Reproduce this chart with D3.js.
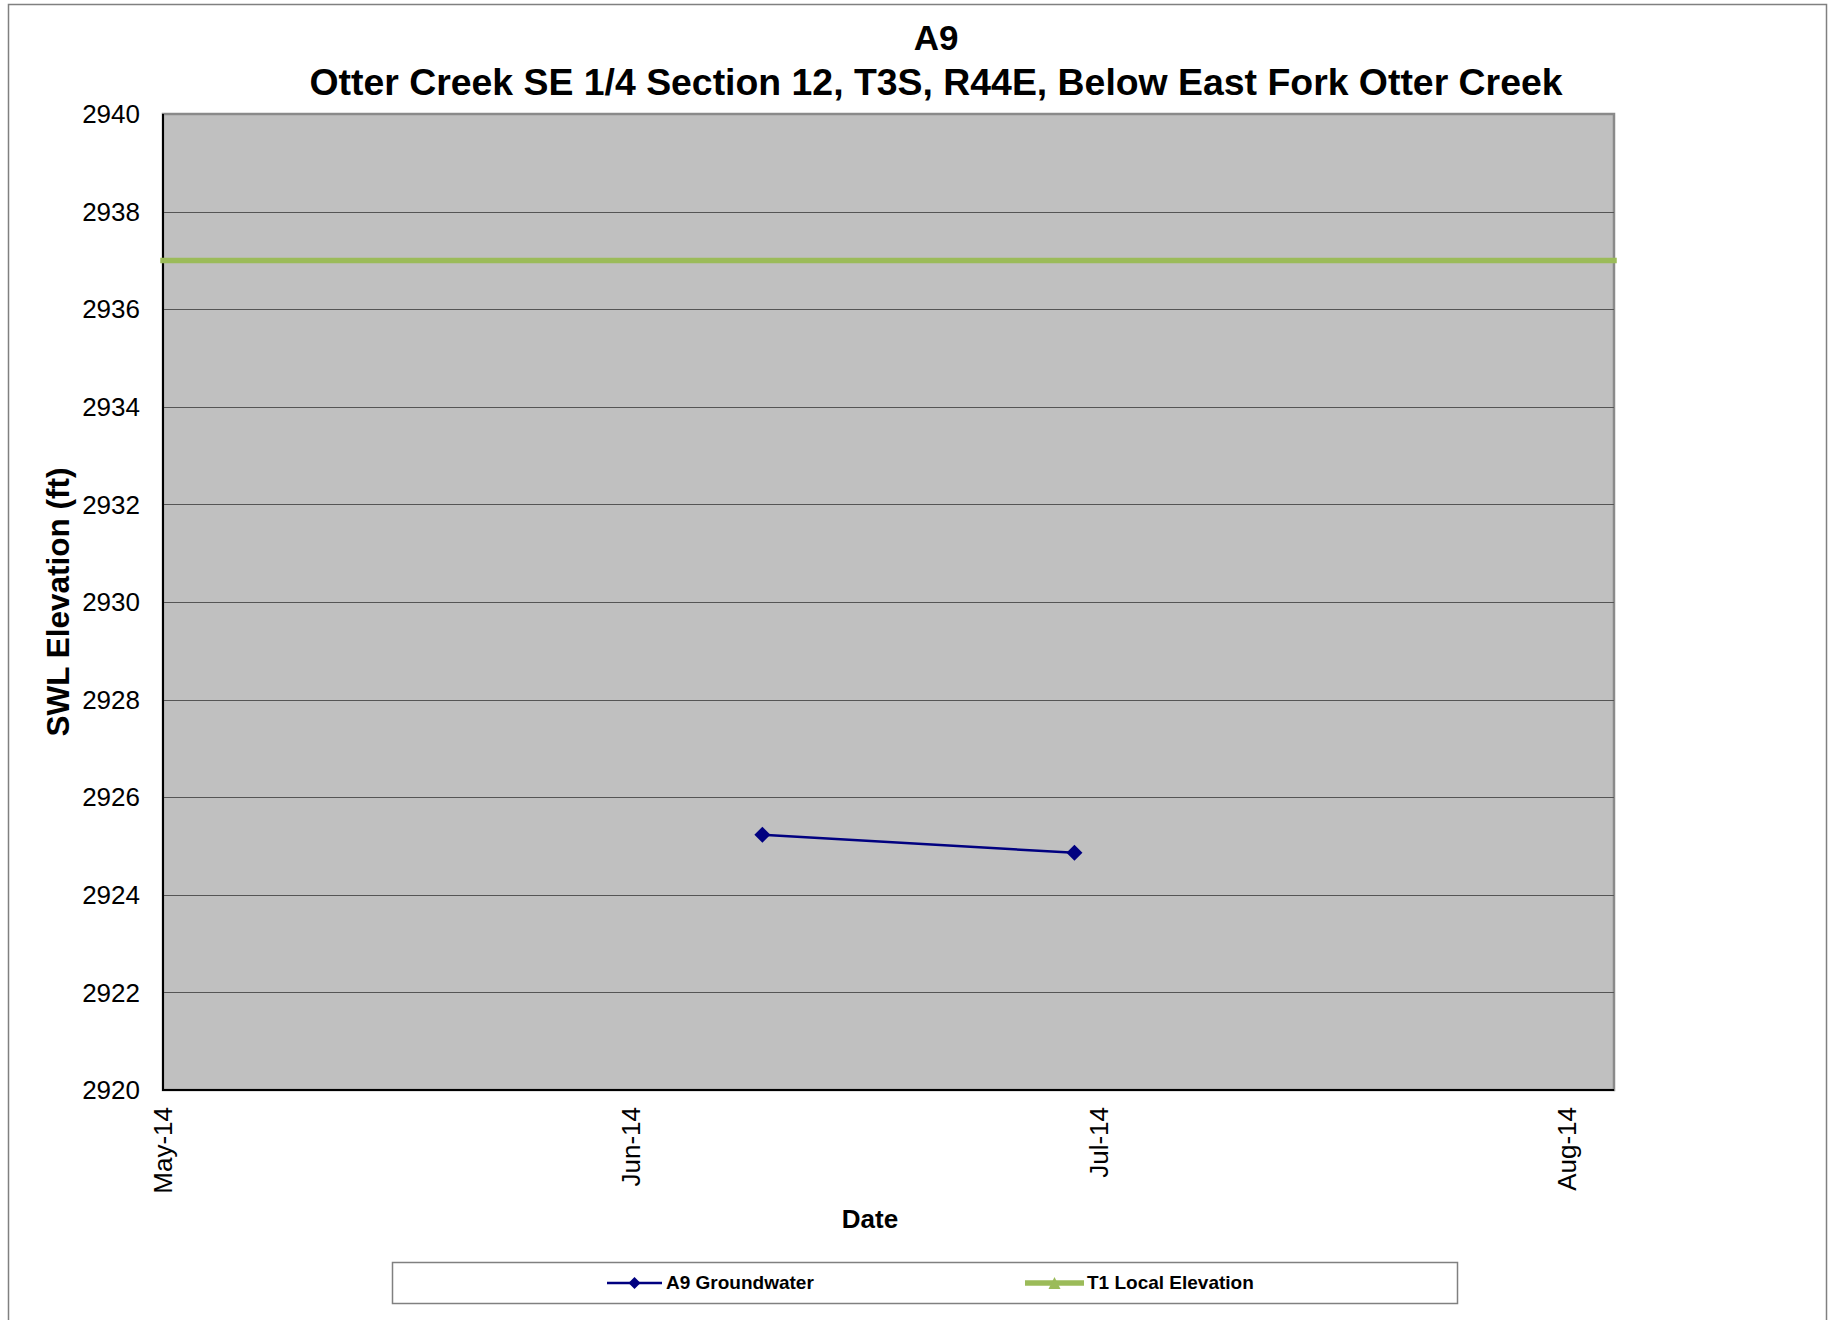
<!DOCTYPE html>
<html lang="en">

<head>
    <meta charset="UTF-8">
    <script src="https://d3js.org/d3.v7.min.js"></script>
    <title>A9 SWL Elevation</title>
    <style>
        body { margin: 0; background: #fff; }
        text { font-family: "Liberation Sans", Arial, sans-serif; fill: #000; }
    </style>
</head>

<body>
    <div id="container"></div>
    <script>
        const width = 1829, height = 1320;

        // data
        const xDomain = ["2014-05-03", "2014-08-04"];
        const xTicks = ["2014-05-03", "2014-06-02", "2014-07-02", "2014-08-01"];
        const yTicks = [2920, 2922, 2924, 2926, 2928, 2930, 2932, 2934, 2936, 2938, 2940];
        const a9Dates = ["2014-06-10T10:00", "2014-06-30T10:00"];
        const a9Values = [2925.23, 2924.86];
        const t1Dates = ["2014-05-03", "2014-08-04"];
        const t1Values = [2937, 2937];

        const parse = s => new Date(s + (s.length > 10 ? ":00Z" : "T00:00:00Z"));

        const plot = { left: 163, right: 1614, top: 114, bottom: 1090 };

        const svg = d3.select("#container")
            .append("svg")
            .attr("width", width)
            .attr("height", height);

        // outer frame
        svg.append("rect")
            .attr("x", 8.5).attr("y", 4.5)
            .attr("width", 1818).attr("height", 1400)
            .attr("fill", "#fff")
            .attr("stroke", "#808080")
            .attr("stroke-width", 1.5);

        const x = d3.scaleUtc()
            .domain(xDomain.map(parse))
            .range([plot.left, plot.right]);
        const y = d3.scaleLinear()
            .domain([2920, 2940])
            .range([plot.bottom, plot.top]);

        // plot area
        svg.append("rect")
            .attr("x", plot.left).attr("y", plot.top)
            .attr("width", plot.right - plot.left)
            .attr("height", plot.bottom - plot.top)
            .attr("fill", "#C0C0C0")
            .attr("stroke", "#8a8a8a")
            .attr("stroke-width", 2.5);

        // gridlines
        svg.append("g")
            .selectAll("line")
            .data(yTicks.slice(1, -1))
            .enter()
            .append("line")
            .attr("x1", plot.left)
            .attr("x2", plot.right)
            .attr("y1", d => Math.round(y(d)) + 0.5)
            .attr("y2", d => Math.round(y(d)) + 0.5)
            .attr("stroke", "#555")
            .attr("stroke-width", 1);

        // axis lines
        svg.append("line")
            .attr("x1", plot.left).attr("x2", plot.left)
            .attr("y1", plot.top).attr("y2", plot.bottom + 1)
            .attr("stroke", "#000").attr("stroke-width", 2);
        svg.append("line")
            .attr("x1", plot.left - 1).attr("x2", plot.right)
            .attr("y1", plot.bottom).attr("y2", plot.bottom)
            .attr("stroke", "#000").attr("stroke-width", 2);

        // y tick labels
        svg.append("g")
            .attr("text-anchor", "end")
            .attr("font-size", 26)
            .selectAll("text")
            .data(yTicks)
            .enter()
            .append("text")
            .attr("x", 140)
            .attr("y", d => y(d))
            .attr("dy", "0.35em")
            .text(d => d);

        // x tick labels
        const fmt = d3.utcFormat("%b-%y");
        svg.append("g")
            .attr("text-anchor", "end")
            .attr("font-size", 26)
            .selectAll("text")
            .data(xTicks.map(parse))
            .enter()
            .append("text")
            .attr("transform", d => `translate(${x(d)},1107) rotate(-90)`)
            .attr("dy", "0.35em")
            .text(d => fmt(d));

        // T1 local elevation
        const t1 = t1Dates.map((d, i) => ({ date: parse(d), value: t1Values[i] }));
        svg.append("path")
            .datum(t1)
            .attr("d", d3.line().x(d => x(d.date)).y(d => y(d.value)))
            .attr("fill", "none")
            .attr("stroke", "#9BBB59")
            .attr("stroke-width", 5.5)
            .attr("stroke-linecap", "square");

        // A9 groundwater
        const a9 = a9Dates.map((d, i) => ({ date: parse(d), value: a9Values[i] }));
        svg.append("path")
            .datum(a9)
            .attr("d", d3.line().x(d => x(d.date)).y(d => y(d.value)))
            .attr("fill", "none")
            .attr("stroke", "#000080")
            .attr("stroke-width", 2.5);
        svg.append("g")
            .selectAll("path")
            .data(a9)
            .enter()
            .append("path")
            .attr("transform", d => `translate(${x(d.date)},${y(d.value)})`)
            .attr("d", "M0,-8 L8,0 L0,8 L-8,0 Z")
            .attr("fill", "#000080");

        // titles
        svg.append("text")
            .attr("x", 936).attr("y", 50)
            .attr("text-anchor", "middle")
            .attr("font-size", 35)
            .attr("font-weight", "bold")
            .text("A9");
        svg.append("text")
            .attr("x", 936).attr("y", 95)
            .attr("text-anchor", "middle")
            .attr("font-size", 37.4)
            .attr("font-weight", "bold")
            .text("Otter Creek SE 1/4 Section 12, T3S, R44E, Below East Fork Otter Creek");
        svg.append("text")
            .attr("transform", "translate(58,602) rotate(-90)")
            .attr("text-anchor", "middle")
            .attr("dy", "0.35em")
            .attr("font-size", 31.5)
            .attr("font-weight", "bold")
            .text("SWL Elevation (ft)");
        svg.append("text")
            .attr("x", 870).attr("y", 1228)
            .attr("text-anchor", "middle")
            .attr("font-size", 26)
            .attr("font-weight", "bold")
            .text("Date");

        // legend
        const legend = svg.append("g");
        legend.append("rect")
            .attr("x", 392.5).attr("y", 1262.5)
            .attr("width", 1065).attr("height", 41)
            .attr("fill", "#fff")
            .attr("stroke", "#808080")
            .attr("stroke-width", 1.5);
        legend.append("line")
            .attr("x1", 607).attr("x2", 662)
            .attr("y1", 1283).attr("y2", 1283)
            .attr("stroke", "#000080").attr("stroke-width", 2.5);
        legend.append("path")
            .attr("transform", "translate(634.5,1283)")
            .attr("d", "M0,-6 L6,0 L0,6 L-6,0 Z")
            .attr("fill", "#000080");
        legend.append("text")
            .attr("x", 666).attr("y", 1289)
            .attr("font-size", 19)
            .attr("font-weight", "bold")
            .text("A9 Groundwater");
        legend.append("line")
            .attr("x1", 1025).attr("x2", 1084)
            .attr("y1", 1283).attr("y2", 1283)
            .attr("stroke", "#9BBB59").attr("stroke-width", 5.5);
        legend.append("path")
            .attr("transform", "translate(1054.5,1283)")
            .attr("d", "M0,-6 L6,6 L-6,6 Z")
            .attr("fill", "#9BBB59");
        legend.append("text")
            .attr("x", 1087).attr("y", 1289)
            .attr("font-size", 19)
            .attr("font-weight", "bold")
            .text("T1 Local Elevation");
    </script>
</body>

</html>
